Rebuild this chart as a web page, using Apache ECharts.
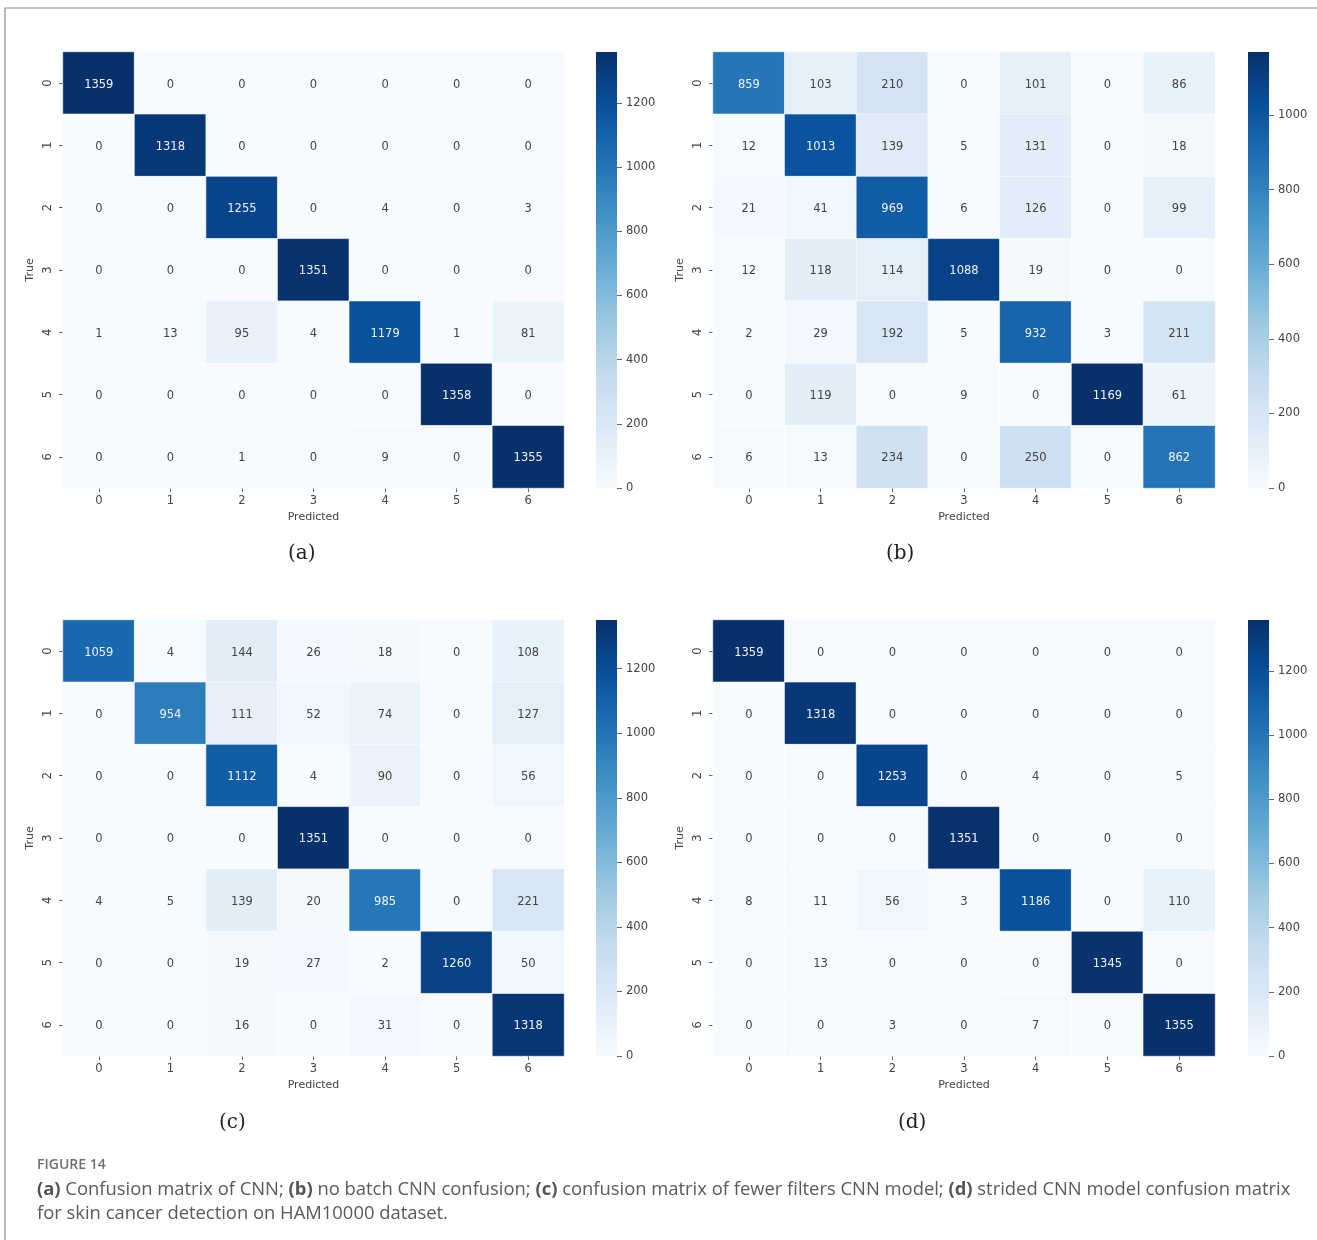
<!DOCTYPE html>
<html>
<head>
<meta charset="utf-8">
<script src="https://cdn.jsdelivr.net/npm/echarts@6/dist/echarts.min.js"></script>
<style>
  html, body { margin: 0; padding: 0; background: #fff; }
  #chart { width: 1317px; height: 1240px; }
</style>
</head>
<body>
<div id="chart"></div>
<script>
// Class labels (HAM10000 lesion classes 0..6)
const classes = ['0', '1', '2', '3', '4', '5', '6'];

// Confusion matrices: rows = true class, columns = predicted class
const cmCNN = [
  [1359, 0, 0, 0, 0, 0, 0],
  [0, 1318, 0, 0, 0, 0, 0],
  [0, 0, 1255, 0, 4, 0, 3],
  [0, 0, 0, 1351, 0, 0, 0],
  [1, 13, 95, 4, 1179, 1, 81],
  [0, 0, 0, 0, 0, 1358, 0],
  [0, 0, 1, 0, 9, 0, 1355]
];
const cmNoBatch = [
  [859, 103, 210, 0, 101, 0, 86],
  [12, 1013, 139, 5, 131, 0, 18],
  [21, 41, 969, 6, 126, 0, 99],
  [12, 118, 114, 1088, 19, 0, 0],
  [2, 29, 192, 5, 932, 3, 211],
  [0, 119, 0, 9, 0, 1169, 61],
  [6, 13, 234, 0, 250, 0, 862]
];
const cmFewerFilters = [
  [1059, 4, 144, 26, 18, 0, 108],
  [0, 954, 111, 52, 74, 0, 127],
  [0, 0, 1112, 4, 90, 0, 56],
  [0, 0, 0, 1351, 0, 0, 0],
  [4, 5, 139, 20, 985, 0, 221],
  [0, 0, 19, 27, 2, 1260, 50],
  [0, 0, 16, 0, 31, 0, 1318]
];
const cmStrided = [
  [1359, 0, 0, 0, 0, 0, 0],
  [0, 1318, 0, 0, 0, 0, 0],
  [0, 0, 1253, 0, 4, 0, 5],
  [0, 0, 0, 1351, 0, 0, 0],
  [8, 11, 56, 3, 1186, 0, 110],
  [0, 13, 0, 0, 0, 1345, 0],
  [0, 0, 3, 0, 7, 0, 1355]
];

// Colorbar tick values
const ticksTo1200 = [0, 200, 400, 600, 800, 1000, 1200];
const ticksTo1000 = [0, 200, 400, 600, 800, 1000];

const panelLabels = ['(a)', '(b)', '(c)', '(d)'];

// matplotlib "Blues" colormap
const blues = ['#f7fbff', '#deebf7', '#c6dbef', '#9ecae1', '#6baed6',
               '#4292c6', '#2171b5', '#08519c', '#08306b'];

const panels = [
  { cm: cmCNN,          ticks: ticksTo1200, hm: [63, 52, 501],  cb: 596,  label: [300, 552] },
  { cm: cmNoBatch,      ticks: ticksTo1000, hm: [713, 52, 502], cb: 1248, label: [898, 552] },
  { cm: cmFewerFilters, ticks: ticksTo1200, hm: [63, 620, 501], cb: 596,  label: [231, 1121] },
  { cm: cmStrided,      ticks: ticksTo1200, hm: [713, 620, 502], cb: 1248, label: [910, 1121] }
];

const HM_H = 436;
const CB_W = 21;
const TXT = '#444';
const FONT = 'DejaVu Sans';

const grid = [], xAxis = [], yAxis = [], series = [], visualMap = [], graphic = [];

panels.forEach((p, i) => {
  const cells = [];
  let max = 0;
  p.cm.forEach((row, r) => row.forEach((v, c) => {
    cells.push([c, r, v]);
    if (v > max) max = v;
  }));

  // heatmap grid
  const gi = grid.length;
  grid.push({ left: p.hm[0], top: p.hm[1], width: p.hm[2], height: HM_H });
  xAxis.push({
    type: 'category', gridIndex: gi, data: classes, position: 'bottom',
    name: 'Predicted', nameLocation: 'middle', nameGap: 24,
    nameTextStyle: { color: TXT, fontSize: 11, fontFamily: FONT },
    axisLine: { show: false },
    axisTick: { show: true, alignWithLabel: true, length: 4, lineStyle: { color: '#666' } },
    axisLabel: { color: TXT, fontSize: 11.5, fontFamily: FONT, margin: 7 },
    splitLine: { show: false }
  });
  yAxis.push({
    type: 'category', gridIndex: gi, data: classes, inverse: true,
    name: 'True', nameLocation: 'middle', nameGap: 27, nameRotate: 90,
    nameTextStyle: { color: TXT, fontSize: 11, fontFamily: FONT },
    axisLine: { show: false },
    axisTick: { show: true, alignWithLabel: true, length: 4, lineStyle: { color: '#666' } },
    axisLabel: { color: TXT, fontSize: 11.5, fontFamily: FONT, rotate: 90, margin: 9 },
    splitLine: { show: false }
  });
  const si = series.length;
  series.push({
    type: 'heatmap', xAxisIndex: gi, yAxisIndex: gi, data: cells,
    itemStyle: { borderColor: 'rgba(255,255,255,0.55)', borderWidth: 1 },
    label: {
      show: true, fontFamily: FONT, fontSize: 11.5, offset: [0, 1.5],
      formatter: (prm) => {
        const v = prm.value[2];
        return (v / max > 0.55 ? '{w|' : '{d|') + v + '}';
      },
      rich: {
        w: { color: '#eef2f8', fontSize: 11.5, fontFamily: FONT },
        d: { color: TXT, fontSize: 11.5, fontFamily: FONT }
      }
    },
    emphasis: { disabled: true }
  });
  visualMap.push({
    show: false, type: 'continuous', seriesIndex: si, dimension: 2,
    min: 0, max: max, inRange: { color: blues }
  });

  // colorbar grid: one bar spanning 0..max on a value axis
  const ci = grid.length;
  grid.push({ left: p.cb, top: p.hm[1], width: CB_W, height: HM_H });
  xAxis.push({
    type: 'category', gridIndex: ci, data: [''],
    show: false
  });
  yAxis.push({
    type: 'value', gridIndex: ci, min: 0, max: max, position: 'right',
    axisLine: { show: false },
    splitLine: { show: false },
    axisTick: { show: true, length: 5, customValues: p.ticks, lineStyle: { color: '#666' } },
    axisLabel: {
      color: TXT, fontSize: 11.5, fontFamily: FONT, margin: 9,
      customValues: p.ticks, formatter: (v) => String(v)
    }
  });
  const stops = blues.map((c, k) => ({ offset: 1 - k / (blues.length - 1), color: c }));
  series.push({
    type: 'bar', xAxisIndex: ci, yAxisIndex: ci, data: [max],
    barWidth: '100%', silent: true,
    itemStyle: { color: new echarts.graphic.LinearGradient(0, 0, 0, 1, stops.reverse()) }
  });

  graphic.push({
    type: 'text', left: p.label[0] - 12, top: p.label[1] - 8,
    style: { text: panelLabels[i], fontFamily: 'DejaVu Serif', fontSize: 20, fill: '#222' }
  });
});

// figure frame and caption
graphic.push({
  type: 'polyline', silent: true,
  shape: { points: [[5, 1240], [5, 8], [1317, 8]] },
  style: { stroke: '#8a8a8a', lineWidth: 1.2, fill: null }
});
graphic.push({
  type: 'text', left: 37, top: 1158,
  style: { text: 'FIGURE 14', fontFamily: 'Open Sans', fontSize: 14, fontWeight: 600, fill: '#707070' }
});
graphic.push({
  type: 'text', left: 37, top: 1178,
  style: {
    text: '{b|(a)} Confusion matrix of CNN; {b|(b)} no batch CNN confusion; {b|(c)} confusion matrix of fewer filters CNN model; {b|(d)} strided CNN model confusion matrix\nfor skin cancer detection on HAM10000 dataset.',
    fontFamily: 'Open Sans', fontSize: 18.4, fill: '#5a5a5a', lineHeight: 24,
    rich: {
      b: { fontFamily: 'Open Sans', fontSize: 18.4, fontWeight: 'bold', fill: '#555' }
    }
  }
});

const chart = echarts.init(document.getElementById('chart'), null, { renderer: 'canvas' });
chart.setOption({
  backgroundColor: '#fff',
  animation: false,
  grid, xAxis, yAxis, series, visualMap, graphic
});
</script>
</body>
</html>
